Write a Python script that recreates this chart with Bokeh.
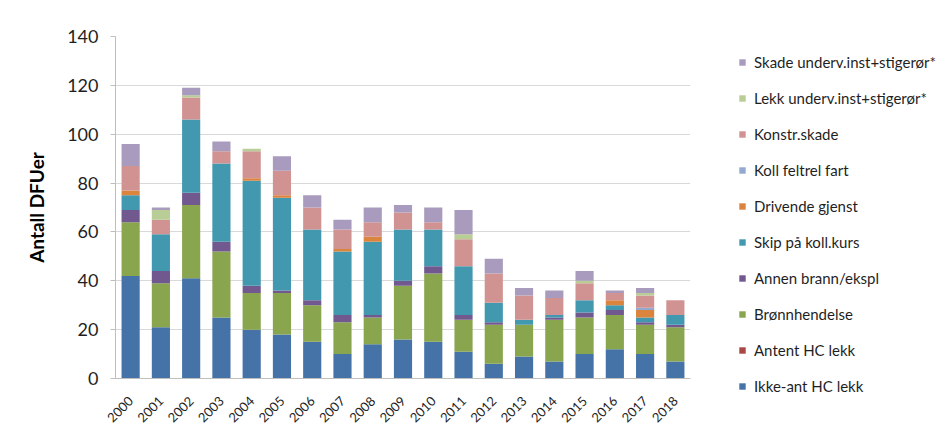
import math
from bokeh.plotting import figure
from bokeh.models import (ColumnDataSource, FactorRange, Range1d, SingleIntervalTicker,
                          Legend, LegendItem)
from bokeh.embed import file_html
from bokeh.resources import INLINE

years = [str(y) for y in range(2000, 2019)]

ikke_ant = [42, 21, 41, 25, 20, 18, 15, 10, 14, 16, 15, 11, 6, 9, 7, 10, 12, 10, 7]
antent = [0, 0, 0, 0, 0, 0, 0, 0, 0, 0, 0, 0, 0, 0, 0, 0, 0, 0, 0]
bronn = [22, 18, 30, 27, 15, 17, 15, 13, 11, 22, 28, 13, 16, 13, 17, 15, 14, 12, 14]
annen = [5, 5, 5, 4, 3, 1, 2, 3, 1, 2, 3, 2, 1, 0, 1, 2, 2, 1, 1]
skip = [6, 15, 30, 32, 43, 38, 29, 26, 30, 21, 15, 20, 8, 2, 1, 5, 2, 2, 4]
drivende = [2, 0, 0, 0, 1, 1, 0, 1, 2, 0, 0, 0, 0, 0, 0, 0, 2, 3, 0]
koll = [0, 0, 0, 0, 0, 0, 0, 0, 0, 0, 0, 0, 0, 0, 0, 0, 0, 1, 0]
konstr = [10, 6, 9, 5, 11, 10, 9, 8, 6, 7, 3, 11, 12, 10, 7, 7, 3, 5, 6]
lekk = [0, 4, 1, 0, 1, 0, 0, 0, 0, 0, 0, 2, 0, 0, 0, 1, 0, 1, 0]
skade = [9, 1, 3, 4, 0, 6, 5, 4, 6, 3, 6, 10, 6, 3, 3, 4, 1, 2, 0]

series_names = ["Ikke-ant HC lekk", "Antent HC lekk", "Brønnhendelse", "Annen brann/ekspl",
                "Skip på koll.kurs", "Drivende gjenst", "Koll feltrel fart", "Konstr.skade",
                "Lekk underv.inst+stigerør*", "Skade underv.inst+stigerør*"]
series_values = [ikke_ant, antent, bronn, annen, skip, drivende, koll, konstr, lekk, skade]
colors = ["#4572A7", "#AA4643", "#89A54E", "#71588F", "#4198AF", "#DB843D",
          "#93A9CF", "#D19392", "#B9CD96", "#A99BBD"]

keys = ["s%d" % i for i in range(len(series_names))]
data = {"year": years}
for k, v in zip(keys, series_values):
    data[k] = v
source = ColumnDataSource(data)

FONT = "Lato"
TXT = "#1f1f1f"

p = figure(x_range=FactorRange(*years), y_range=Range1d(0, 140),
           frame_width=575, frame_height=342,
           min_border_left=115, min_border_right=250, min_border_top=36, min_border_bottom=43,
           output_backend="svg", toolbar_location=None)

renderers = p.vbar_stack(keys, x="year", width=0.6, color=colors, line_color=None,
                         source=source)

p.x_range.range_padding = 0
p.outline_line_color = None
p.background_fill_color = "white"
p.border_fill_color = "white"

p.yaxis.ticker = SingleIntervalTicker(interval=20)
p.yaxis.axis_label = "Antall DFUer"
p.yaxis.axis_label_text_font = FONT
p.yaxis.axis_label_text_font_style = "bold"
p.yaxis.axis_label_text_font_size = "19px"
p.yaxis.axis_label_text_color = "#000000"
p.yaxis.axis_label_standoff = 16
p.yaxis.major_label_text_font = FONT
p.yaxis.major_label_text_font_size = "18px"
p.yaxis.major_label_text_color = TXT
p.yaxis.major_label_standoff = 12
p.yaxis.axis_line_color = "#bfbfbf"
p.yaxis.major_tick_line_color = "#bfbfbf"
p.yaxis.major_tick_out = 5
p.yaxis.major_tick_in = 0
p.yaxis.minor_tick_line_color = None

p.xaxis.major_label_orientation = math.pi / 4
p.xaxis.major_label_text_font = FONT
p.xaxis.major_label_text_font_size = "13px"
p.xaxis.major_label_text_color = TXT
p.xaxis.major_label_standoff = 14
p.xaxis.axis_line_color = "#bfbfbf"
p.xaxis.major_tick_line_color = None

p.xgrid.grid_line_color = None
p.ygrid.grid_line_color = "#d9d9d9"
p.ygrid.grid_line_width = 1

items = [LegendItem(label=n, renderers=[r]) for n, r in zip(series_names, renderers)]
items.reverse()
legend = Legend(items=items, location=(48, -18), orientation="vertical",
                label_text_font=FONT, label_text_font_size="15px", label_text_color=TXT,
                glyph_width=8, glyph_height=8, label_height=21, label_standoff=8,
                spacing=15, padding=10, margin=0,
                border_line_color=None, background_fill_alpha=0)
p.add_layout(legend, "right")

open("out.html", "w").write(file_html(p, INLINE))
